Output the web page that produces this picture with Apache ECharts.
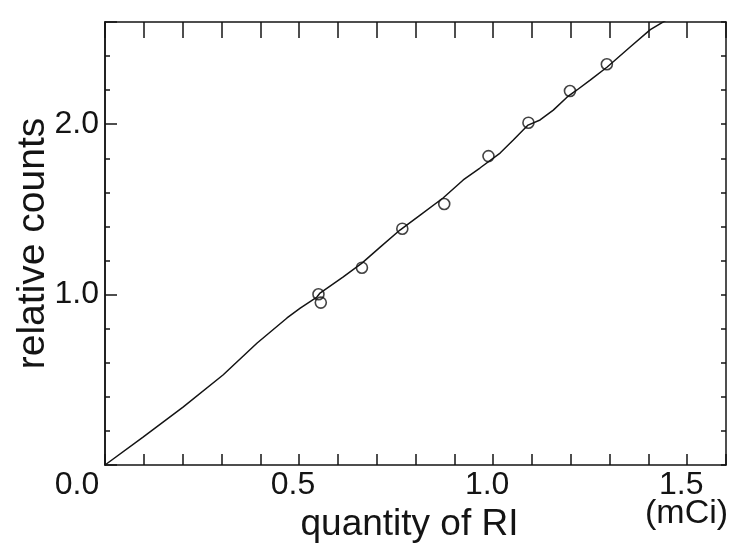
<!DOCTYPE html>
<html>
<head>
<meta charset="utf-8">
<script src="https://cdn.jsdelivr.net/npm/echarts@6/dist/echarts.min.js"></script>
<style>
html,body{margin:0;padding:0;background:#fff;}
#chart{width:740px;height:544px;}
</style>
</head>
<body>
<div id="chart"></div>
<script>
// Fitted curve (quantity of RI in mCi, relative counts)
const curveX = [0, 0.098, 0.201, 0.304, 0.392, 0.469, 0.503, 0.546, 0.554, 0.613, 0.662, 0.709, 0.760, 0.812, 0.871, 0.923, 0.966, 1.018, 1.052, 1.090, 1.121, 1.155, 1.191, 1.216, 1.250, 1.294, 1.353, 1.405, 1.46];
const curveY = [0, 0.164, 0.340, 0.528, 0.716, 0.863, 0.921, 0.986, 1.009, 1.103, 1.185, 1.279, 1.379, 1.467, 1.567, 1.673, 1.743, 1.831, 1.907, 1.995, 2.025, 2.083, 2.160, 2.201, 2.259, 2.336, 2.453, 2.555, 2.63];
// Measured points
const pointX = [0.550, 0.556, 0.662, 0.766, 0.874, 0.988, 1.091, 1.198, 1.293];
const pointY = [1.002, 0.953, 1.158, 1.387, 1.532, 1.813, 2.009, 2.195, 2.352];
const xLabels = ['0.0', '0.5', '1.0', '1.5'];
const yLabels = ['1.0', '2.0'];

const FONT = 'Liberation Sans';
const INK = '#141414';

const chart = echarts.init(document.getElementById('chart'));
const lineStyle = {color: INK, width: 1.5};

const baseX = {
  type: 'value', min: 0, max: 1.6, interval: 0.1,
  axisLine: {show: true, onZero: false, lineStyle: lineStyle},
  splitLine: {show: false}
};
const baseY = {
  type: 'value', min: 0, max: 2.6,
  axisLine: {show: true, onZero: false, lineStyle: lineStyle},
  splitLine: {show: false}
};

chart.setOption({
  animation: false,
  backgroundColor: '#fff',
  grid: {left: 105, right: 14, top: 22, bottom: 79, outerBoundsMode: 'none', containLabel: false},
  xAxis: [
    Object.assign({}, baseX, {
      position: 'bottom',
      axisTick: {inside: true, length: 11, lineStyle: lineStyle},
      axisLabel: {
        margin: 4, fontFamily: FONT, fontSize: 32, color: INK,
        formatter: function (v) {
          const r = Math.round(v * 10);
          if (r === 0) return '{z|' + xLabels[0] + '}';
          if (r % 5 === 0) return '{n|' + (xLabels[r / 5] || '') + '}';
          return '';
        },
        rich: {
          z: {fontFamily: FONT, fontSize: 32, color: INK, padding: [0, 56, 0, 0]},
          n: {fontFamily: FONT, fontSize: 32, color: INK, padding: [0, 12, 0, 0]}
        }
      },
      name: 'quantity of RI', nameLocation: 'middle', nameGap: 36,
      nameTextStyle: {fontFamily: FONT, fontSize: 37, color: INK, padding: [0, 12, 0, 0]}
    }),
    Object.assign({}, baseX, {
      position: 'top',
      axisTick: {inside: true, length: 16, lineStyle: lineStyle},
      axisLabel: {show: false}
    })
  ],
  yAxis: [
    Object.assign({}, baseY, {
      position: 'left', interval: 0.2,
      axisTick: {inside: true, length: 5, lineStyle: lineStyle},
      axisLabel: {show: false},
      name: 'relative counts', nameLocation: 'middle', nameGap: 52,
      nameTextStyle: {fontFamily: FONT, fontSize: 39, color: INK}
    }),
    Object.assign({}, baseY, {
      position: 'left', interval: 1,
      axisTick: {inside: true, length: 12, lineStyle: lineStyle},
      axisLabel: {
        margin: 6, fontFamily: FONT, fontSize: 32, color: INK,
        formatter: function (v) {
          const r = Math.round(v * 10);
          if (r === 10) return yLabels[0];
          if (r === 20) return yLabels[1];
          return '';
        }
      }
    }),
    Object.assign({}, baseY, {
      position: 'right', interval: 0.2,
      axisTick: {inside: true, length: 5, lineStyle: lineStyle},
      axisLabel: {show: false}
    })
  ],
  graphic: [{
    type: 'text', left: 645, top: 497,
    style: {text: '(mCi)', fontFamily: FONT, fontSize: 34, fill: INK}
  }],
  series: [
    {
      type: 'line', xAxisIndex: 0, yAxisIndex: 0,
      data: curveX.map((x, i) => [x, curveY[i]]),
      showSymbol: false, symbol: 'none', clip: true,
      lineStyle: {color: INK, width: 1.5}, z: 2
    },
    {
      type: 'scatter', xAxisIndex: 0, yAxisIndex: 0,
      data: pointX.map((x, i) => [x, pointY[i]]),
      symbol: 'circle', symbolSize: 11, z: 3,
      itemStyle: {color: 'rgba(255,255,255,0)', borderColor: INK, borderWidth: 1.6}
    }
  ]
});
</script>
</body>
</html>
